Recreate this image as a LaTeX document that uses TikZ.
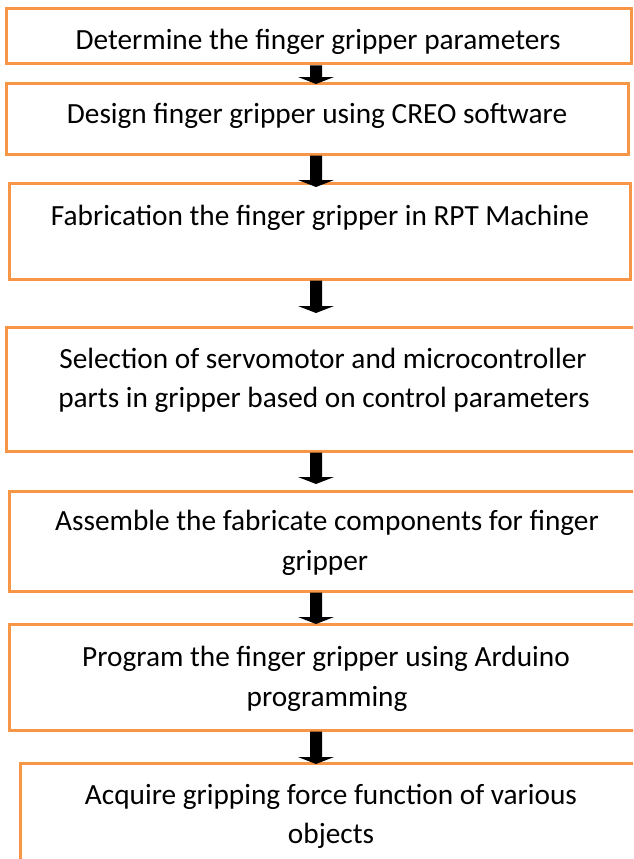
\documentclass[tikz,border=0pt]{standalone}
\usepackage{fontspec}
\setmainfont{Carlito}
\definecolor{boxorange}{RGB}{247,150,70}
\newcommand\blkarrow[3]{%
  \coordinate (s) at (#1.south -| ax);
  \coordinate (e0) at (#2.north -| ax);
  \coordinate (e) at ([yshift=#3]e0);
  \fill[arrowfill] ([xshift=-6pt]s) -- ([xshift=6pt]s) -- ([xshift=6pt,yshift=7pt]e)
    -- ([xshift=18pt,yshift=7pt]e) -- (e) -- ([xshift=-18pt,yshift=7pt]e)
    -- ([xshift=-6pt,yshift=7pt]e) -- cycle;
}
\tikzset{
  box/.style={draw=boxorange, line width=3pt, rectangle, inner sep=0pt, fill=none},
  txt/.style={anchor=base, inner sep=0pt, text=black, font=\fontsize{29.3}{39}\selectfont},
  arrowfill/.style={fill=black}
}
\begin{document}
\begin{tikzpicture}[x=1pt,y=-1pt]
\useasboundingbox (0,0) rectangle (633,859);
\fill[white] (0,0) rectangle (633,859);
\clip (0,0) rectangle (633,859);
\coordinate (ax) at (316,0);
% boxes
\node[box, minimum width=625pt, minimum height=55pt]  (b1) at (318.5,36.5) {};
\node[box, minimum width=622pt, minimum height=71pt]  (b2) at (317,118.5) {};
\node[box, minimum width=621pt, minimum height=96pt]  (b3) at (319.5,231) {};
\node[box, minimum width=644pt, minimum height=124pt] (b4) at (328,389) {};
\node[box, minimum width=641pt, minimum height=100pt] (b5) at (329.5,541) {};
\node[box, minimum width=641pt, minimum height=106pt] (b6) at (329.5,677) {};
\node[box, minimum width=630pt, minimum height=117pt] (b7) at (335,821.5) {};
% texts
\node[txt] (t1) at (318,49) {Determine the finger gripper parameters};
\node[txt] (t2) at (317,123) {Design finger gripper using CREO software};
\node[txt] (t3) at (320,225) {Fabrication the finger gripper in RPT Machine};
\node[txt] (t4a) at (323,368) {Selection of servomotor and microcontroller};
\node[txt] (t4b) at (324,407) {parts in gripper based on control parameters};
\node[txt] (t5a) at (327,530) {Assemble the fabricate components for finger};
\node[txt] (t5b) at (325,570) {gripper};
\node[txt] (t6a) at (326,666) {Program the finger gripper using Arduino};
\node[txt] (t6b) at (327,706) {programming};
\node[txt] (t7a) at (331,804) {Acquire gripping force function of various};
\node[txt] (t7b) at (331,843) {objects};
% arrows
\blkarrow{b1}{b2}{-2.5pt}
\blkarrow{b2}{b3}{-5.5pt}
\blkarrow{b3}{b4}{12.5pt}
\blkarrow{b4}{b5}{5.5pt}
\blkarrow{b5}{b6}{-1.5pt}
\blkarrow{b6}{b7}{-2.5pt}
\end{tikzpicture}
\end{document}
